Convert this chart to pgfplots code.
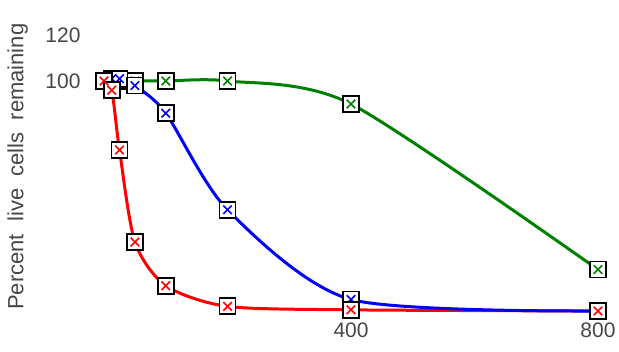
\documentclass[border=0pt]{standalone}
\usepackage{pgfplots}
\pgfplotsset{compat=1.18}
\usepackage{fontspec}
\setmainfont{Liberation Sans}
\definecolor{cred}{RGB}{255,0,0}
\definecolor{cblue}{RGB}{0,0,255}
\definecolor{cgreen}{RGB}{0,128,0}
\definecolor{tgray}{RGB}{70,70,70}
\begin{document}
\begin{tikzpicture}
\pgfplotstableread{
x y
0 100
12.5 96
25 70
50 30
100 11
200 2
400 0.5
800 0
}\red
\pgfplotstableread{
x y
0 100
12.5 101
25 101
50 98
100 86
200 44
400 5
800 0
}\blue
\pgfplotstableread{
x y
0 100
12.5 101
25 100
50 100
100 100
200 100
400 90
800 18
}\green
\begin{axis}[
  at={(0,0)}, anchor=south west,
  scale only axis, width=531pt, height=285.2pt,
  xmin=-60, xmax=800, ymin=-4, ymax=120,
  clip=false,
  axis line style={draw=none},
  major tick length=0pt,
  xtick={400,800}, ytick={100,120},
  /pgf/number format/assume math mode=true,
  ticklabel style={text=tgray, font=\fontsize{21}{21}\selectfont},
  yticklabel style={xshift=17pt},
  xticklabel style={yshift=1pt},
]
\addplot[cred, line width=3pt, smooth, tension=0.45, no marks] table[x=x,y=y] {\red};
\addplot[cblue, line width=3pt, smooth, tension=0.45, no marks] table[x=x,y=y] {\blue};
\addplot[cgreen, line width=3pt, smooth, tension=0.45, no marks] table[x=x,y=y] {\green};
\addplot[only marks, mark=square*, mark size=8pt, mark options={fill=white, draw=black, line width=1.8pt}] table[x=x,y=y] {\green};
\addplot[only marks, mark=x, mark size=6pt, mark options={draw=cgreen, line width=1.6pt}] table[x=x,y=y] {\green};
\addplot[only marks, mark=square*, mark size=8pt, mark options={fill=white, draw=black, line width=1.8pt}] table[x=x,y=y] {\blue};
\addplot[only marks, mark=x, mark size=6pt, mark options={draw=cblue, line width=1.6pt}] table[x=x,y=y] {\blue};
\addplot[only marks, mark=square*, mark size=8pt, mark options={fill=white, draw=black, line width=1.8pt}] table[x=x,y=y] {\red};
\addplot[only marks, mark=x, mark size=6pt, mark options={draw=cred, line width=1.6pt}] table[x=x,y=y] {\red};
\node[rotate=90, anchor=west, text=tgray, inner sep=0pt, font=\fontsize{22}{22}\selectfont] at (rel axis cs:-0.093,0.036) {Percent\ \ live\ \ cells\ \ remaining};
\end{axis}
\pgfresetboundingbox
\path[use as bounding box] (-67pt,-31.8pt) rectangle (552pt,320.2pt);
\end{tikzpicture}
\end{document}
